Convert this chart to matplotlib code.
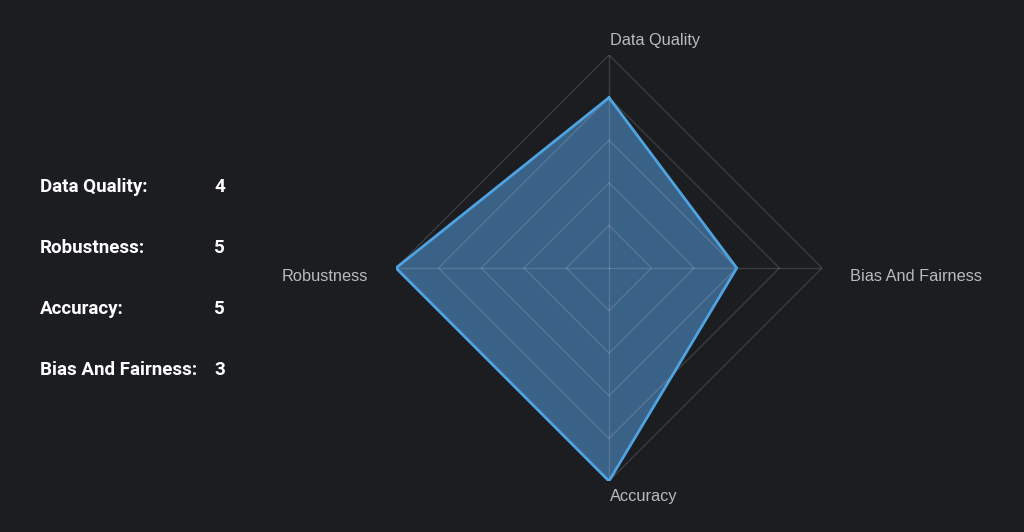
import numpy as np
import matplotlib.pyplot as plt

# radar data (clockwise from top)
categories = ['Data Quality', 'Bias And Fairness', 'Accuracy', 'Robustness']
values = [4, 3, 5, 5]
levels = [1, 2, 3, 4, 5]

# side list, in the order shown on the left
list_labels = ['Data Quality:', 'Robustness:', 'Accuracy:', 'Bias And Fairness:']
list_values = [4, 5, 5, 3]

BG = '#1b1d20'
FILL = '#3a6186'
LINE = '#4fa3e0'
LABEL = '#b8babd'

fig = plt.figure(figsize=(10.24, 5.32), dpi=100, facecolor=BG)
ax = fig.add_axes([0.3867, 0.0958, 0.416, 0.8008], projection='polar')
ax.set_facecolor('none')
ax.set_theta_offset(np.pi / 2)
ax.set_theta_direction(-1)
ax.set_ylim(0, 5)
ax.grid(False)
ax.spines['polar'].set_visible(False)
ax.set_xticks([])
ax.set_yticks([])

angles = np.linspace(0, 2 * np.pi, len(categories), endpoint=False)
closed = np.append(angles, angles[0])

# data polygon
vals = values + values[:1]
ax.fill(closed, vals, color=FILL, zorder=1)

# polygon grid and spokes, translucent so they tint over the fill
for lv in levels:
    ax.plot(closed, [lv] * len(closed), color='white', alpha=0.14, lw=1, zorder=2)
for a in angles:
    ax.plot([a, a], [0, levels[-1]], color='white', alpha=0.14, lw=1, zorder=2)

ax.plot(closed, vals, color=LINE, lw=2, zorder=3)

# axis labels
label_cfg = [
    dict(off=(1, 5), ha='left', va='bottom'),
    dict(off=(20, -6), ha='left', va='center'),
    dict(off=(1, -6), ha='left', va='top'),
    dict(off=(-20, -6), ha='right', va='center'),
]
for a, name, cfg in zip(angles, categories, label_cfg):
    ax.annotate(name, xy=(a, levels[-1]), xytext=cfg['off'], textcoords='offset points',
                ha=cfg['ha'], va=cfg['va'], color=LABEL, fontsize=11.8,
                family='Liberation Sans', annotation_clip=False)

# side list
y0 = 1 - 187 / 532
dy = 61 / 532
for i, (lab, v) in enumerate(zip(list_labels, list_values)):
    y = y0 - i * dy
    fig.text(40 / 1024, y, lab, color='white', fontsize=13.5, fontweight='bold',
             family='Roboto', va='center', ha='left')
    fig.text(214 / 1024, y, str(v), color='white', fontsize=13.5, fontweight='bold',
             family='Roboto', va='center', ha='left')

fig.savefig('out.png', dpi=100, facecolor=BG)
